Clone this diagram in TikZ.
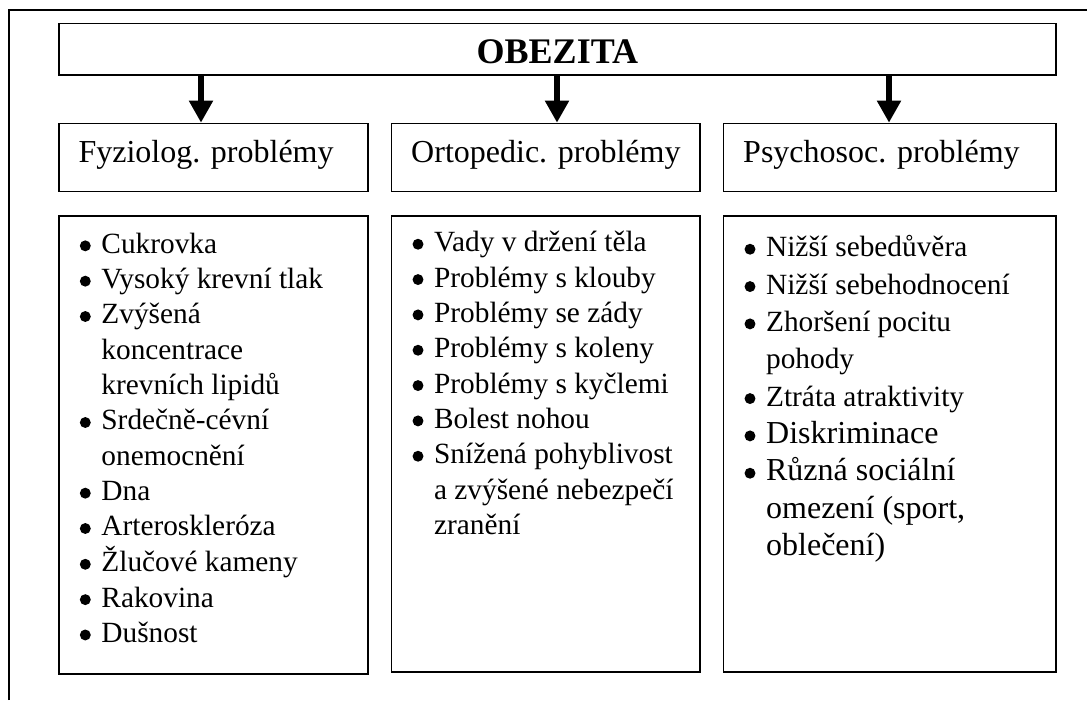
\documentclass[tikz,border=0pt]{standalone}
\usepackage{fontspec}
\setmainfont{Liberation Serif}
\usetikzlibrary{arrows.meta, positioning}
\newcommand{\dotmark}{\tikz[baseline=-2.8pt]\fill (0,0) circle (2.05pt);}
\newenvironment{problist}{\begin{tabular}[t]{@{}p{8.1pt}@{}l@{}}}{\end{tabular}}

\begin{document}
\begin{tikzpicture}[x=0.375pt, y=-0.375pt,
    box/.style={draw, line width=0.65pt, inner sep=0pt, anchor=north west},
    headbox/.style={box, minimum height=25.5pt},
    listbox/.style={box},
    headtext/.style={anchor=base west, inner sep=0pt, font=\fontsize{12}{14}\selectfont},
    itemlist/.style={anchor=base west, inner sep=0pt, font=\fontsize{11}{13.25}\selectfont},
    bigarrow/.style={-{Triangle[width=8.6pt, length=8.3pt]}, line width=2.6pt}]
    \useasboundingbox (0,0) rectangle (1087,700);

    % Border box
    \draw[line width=0.75pt] (9,700) -- (9,10) -- (1087,10);

    % Top box
    \node[box, minimum width=373.9pt, minimum height=19.2pt, text height=10.6pt, font=\bfseries\fontsize{13.5}{15}\selectfont] (obezita) at (58,22.7) {OBEZITA};

    % Header boxes
    \node[headbox, minimum width=115.8pt] (fyzhead) at (58,122.7) {};
    \node[headbox, minimum width=115.6pt] (ortohead) at (390.7,122.7) {};
    \node[headbox, minimum width=124.6pt] (psyhead) at (722.7,122.7) {};
    \node[headtext] (fyztitle) at (78,162) {Fyziolog. problémy};
    \node[headtext] (ortotitle) at (410.7,162) {Ortopedic. problémy};
    \node[headtext] (psytitle) at (742.7,162) {Psychosoc. problémy};

    % Arrows
    \coordinate (a1) at (201,0);
    \coordinate (a2) at (557,0);
    \coordinate (a3) at (889,0);
    \draw[bigarrow] (obezita.south -| a1) -- (fyzhead.north -| a1);
    \draw[bigarrow] (obezita.south -| a2) -- (ortohead.north -| a2);
    \draw[bigarrow] (obezita.south -| a3) -- (psyhead.north -| a3);

    % List boxes
    \node[listbox, minimum width=115.8pt, minimum height=171.75pt] (fyzbox) at (58,215) {};
    \node[listbox, minimum width=115.6pt, minimum height=171pt] (ortobox) at (390.7,215) {};
    \node[listbox, minimum width=124.6pt, minimum height=171pt] (psybox) at (722.7,215) {};

    \node[itemlist] (fyzlist) at (79.3,253.3) {\begin{problist}
        \dotmark & Cukrovka\\
        \dotmark & Vysoký krevní tlak\\
        \dotmark & Zvýšená\\
                 & koncentrace\\
                 & krevních lipidů\\
        \dotmark & Srdečně-cévní\\
                 & onemocnění\\
        \dotmark & Dna\\
        \dotmark & Arteroskleróza\\
        \dotmark & Žlučové kameny\\
        \dotmark & Rakovina\\
        \dotmark & Dušnost
    \end{problist}};

    \node[itemlist] (ortolist) at (412,251.7) {\begin{problist}
        \dotmark & Vady v držení těla\\
        \dotmark & Problémy s klouby\\
        \dotmark & Problémy se zády\\
        \dotmark & Problémy s koleny\\
        \dotmark & Problémy s kyčlemi\\
        \dotmark & Bolest nohou\\
        \dotmark & Snížená pohyblivost\\
                 & a zvýšené nebezpečí\\
                 & zranění
    \end{problist}};

    \node[itemlist, font=\fontsize{11}{14}\selectfont] (psylist) at (744,256.7) {\begin{problist}
        \dotmark & Nižší sebedůvěra\\
        \dotmark & Nižší sebehodnocení\\
        \dotmark & Zhoršení pocitu\\
                 & pohody\\
        \dotmark & Ztráta atraktivity\\
        \dotmark & {\fontsize{12}{14}\selectfont Diskriminace}\\
        \dotmark & {\fontsize{12}{14}\selectfont Různá sociální}\\
                 & {\fontsize{12}{14}\selectfont omezení (sport,}\\
                 & {\fontsize{12}{14}\selectfont oblečení)}
    \end{problist}};
\end{tikzpicture}
\end{document}
